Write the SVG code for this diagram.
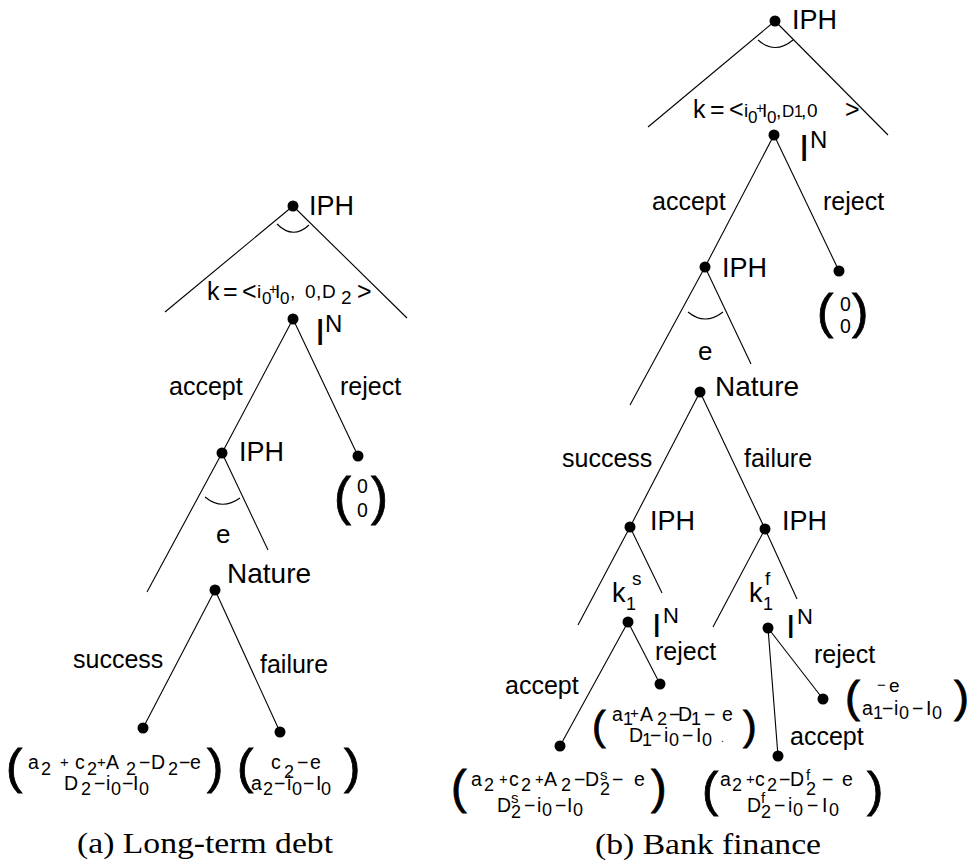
<svg xmlns="http://www.w3.org/2000/svg" width="973" height="867" viewBox="0 0 973 867">
<style>
.t{font-family:"Liberation Sans",Arial,sans-serif;fill:#000}
.lb{font-size:25px}
.nm{font-size:27px}
.m{font-size:19.5px}
.sb{font-size:18px}
.sm{font-size:15px}
.p{font-family:"Liberation Sans",Arial,sans-serif;fill:#000;stroke:#000;stroke-width:0.8}
.cap{font-family:"Liberation Serif","Times New Roman",serif;font-size:29px;fill:#000}
.ln{stroke:#000;stroke-width:1.1;fill:none}
.dot{fill:#000}
</style>
<rect width="973" height="867" fill="#fff"/>
<g id="edges">
<line class="ln" x1="293" y1="206" x2="165" y2="312"/>
<line class="ln" x1="293" y1="206" x2="407" y2="318"/>
<path class="ln" d="M277,224 Q293,240 309,225"/>
<line class="ln" x1="293" y1="319" x2="222" y2="453"/>
<line class="ln" x1="293" y1="319" x2="358" y2="456"/>
<line class="ln" x1="222" y1="453" x2="147" y2="592"/>
<line class="ln" x1="222" y1="453" x2="268" y2="550"/>
<path class="ln" d="M205,497 Q222,511 240,498"/>
<line class="ln" x1="215" y1="590" x2="143" y2="728"/>
<line class="ln" x1="215" y1="590" x2="280" y2="732"/>
<line class="ln" x1="775" y1="21" x2="648" y2="127"/>
<line class="ln" x1="775" y1="21" x2="888" y2="135"/>
<path class="ln" d="M758,40 Q775,55 793,40"/>
<line class="ln" x1="774" y1="135" x2="705" y2="267"/>
<line class="ln" x1="774" y1="135" x2="839" y2="271"/>
<line class="ln" x1="705" y1="267" x2="630" y2="405"/>
<line class="ln" x1="705" y1="267" x2="751" y2="364"/>
<path class="ln" d="M688,312 Q705,326 723,312"/>
<line class="ln" x1="700" y1="392" x2="630" y2="527"/>
<line class="ln" x1="700" y1="392" x2="765" y2="529"/>
<line class="ln" x1="630" y1="527" x2="578" y2="625"/>
<line class="ln" x1="630" y1="527" x2="662" y2="593"/>
<line class="ln" x1="765" y1="529" x2="713" y2="627"/>
<line class="ln" x1="765" y1="529" x2="797" y2="599"/>
<line class="ln" x1="628" y1="622" x2="560" y2="746"/>
<line class="ln" x1="628" y1="622" x2="660" y2="684"/>
<line class="ln" x1="768" y1="628" x2="778" y2="756"/>
<line class="ln" x1="768" y1="628" x2="823" y2="699"/>
</g>
<g id="edge-labels" class="t lb">
<text x="169" y="395">accept</text>
<text x="340" y="395">reject</text>
<text x="73" y="668">success</text>
<text x="260" y="673">failure</text>
<text x="652" y="210">accept</text>
<text x="823" y="210">reject</text>
<text x="562" y="467">success</text>
<text x="744" y="467">failure</text>
<text x="505" y="694">accept</text>
<text x="655" y="660">reject</text>
<text x="814" y="663">reject</text>
<text x="790" y="745">accept</text>
</g>
<g id="L-root">
<circle class="dot" cx="293" cy="206" r="5.5"/>
<text class="t nm" x="309" y="215">IPH</text>
<text class="t" y="300"><tspan x="207" font-size="25">k</tspan><tspan x="223" font-size="25">=</tspan><tspan x="242" font-size="25">&lt;</tspan><tspan x="257" y="298" font-size="19">i</tspan><tspan x="262" y="304" font-size="17">0</tspan><tspan x="269" y="294" font-size="14">+</tspan><tspan x="275" y="298" font-size="19">I</tspan><tspan x="280" y="304" font-size="17">0</tspan><tspan x="290" y="298" font-size="19">,</tspan><tspan x="305" y="298" font-size="19">0</tspan><tspan x="316" y="298" font-size="19">,</tspan><tspan x="322" y="298" font-size="19">D</tspan><tspan x="341" y="304" font-size="19">2</tspan><tspan x="357" y="300" font-size="25">&gt;</tspan></text>
</g>
<g id="L-IN">
<circle class="dot" cx="293" cy="319" r="5.5"/>
<text class="t" x="315" y="345" font-size="37">I</text>
<text class="t" x="325" y="332" font-size="24">N</text>
</g>
<g id="L-IPH2">
<circle class="dot" cx="222" cy="453" r="5.5"/>
<text class="t nm" x="239" y="461">IPH</text>
<text class="t" x="216" y="543" font-size="26">e</text>
</g>
<g id="L-reject">
<circle class="dot" cx="358" cy="456" r="5.5"/>
<text class="p" x="334" y="514" font-size="51">(</text>
<text class="t m" x="357" y="493">0</text>
<text class="t m" x="357" y="517">0</text>
<text class="p" x="371" y="514" font-size="51">)</text>
</g>
<g id="L-nature">
<circle class="dot" cx="215" cy="590" r="5.5"/>
<text class="t" x="227" y="583" font-size="28">Nature</text>
</g>
<g id="L-success">
<circle class="dot" cx="143" cy="728" r="5.5"/>
<text class="p" x="6" y="783" font-size="49">(</text>
<text class="t m" y="769"><tspan x="28">a</tspan><tspan x="41" y="775" class="sb">2</tspan><tspan x="60" y="767" class="sm">+</tspan><tspan x="75" y="769">c</tspan><tspan x="87" y="775" class="sb">2</tspan><tspan x="97" y="767" class="sm">+</tspan><tspan x="106" y="769">A</tspan><tspan x="126" y="775" class="sb">2</tspan><tspan x="139" y="769">−</tspan><tspan x="151" y="769">D</tspan><tspan x="168" y="775" class="sb">2</tspan><tspan x="179" y="769">−</tspan><tspan x="190" y="769">e</tspan></text>
<text class="t m" y="790"><tspan x="64">D</tspan><tspan x="81" y="795" class="sb">2</tspan><tspan x="94" y="790">−</tspan><tspan x="106" y="790">i</tspan><tspan x="111" y="795" class="sb">0</tspan><tspan x="122" y="790">−</tspan><tspan x="133" y="790">I</tspan><tspan x="139" y="795" class="sb">0</tspan></text>
<text class="p" x="207" y="783" font-size="49">)</text>
</g>
<g id="L-failure">
<circle class="dot" cx="280" cy="732" r="5.5"/>
<text class="p" x="237" y="783" font-size="49">(</text>
<text class="t m" y="769"><tspan x="271">c</tspan><tspan x="284" y="778" class="sb">2</tspan><tspan x="297" y="769">−</tspan><tspan x="310" y="769">e</tspan></text>
<text class="t m" y="790"><tspan x="251">a</tspan><tspan x="263" y="795" class="sb">2</tspan><tspan x="274" y="790">−</tspan><tspan x="287" y="790">i</tspan><tspan x="292" y="795" class="sb">0</tspan><tspan x="303" y="790">−</tspan><tspan x="316" y="790">I</tspan><tspan x="321" y="795" class="sb">0</tspan></text>
<text class="p" x="344" y="783" font-size="49">)</text>
</g>
<text class="cap" x="77" y="853" textLength="256" lengthAdjust="spacingAndGlyphs">(a) Long-term debt</text>
<g id="R-root">
<circle class="dot" cx="775" cy="21" r="5.5"/>
<text class="t nm" x="792" y="29">IPH</text>
<text class="t" y="118"><tspan x="693" font-size="25">k</tspan><tspan x="710" font-size="25">=</tspan><tspan x="729" font-size="25">&lt;</tspan><tspan x="744" y="117" font-size="19">i</tspan><tspan x="748" y="123" font-size="17">0</tspan><tspan x="756" y="113" font-size="14">+</tspan><tspan x="762" y="117" font-size="19">I</tspan><tspan x="767" y="123" font-size="17">0</tspan><tspan x="776" y="117" font-size="19">,</tspan><tspan x="782" y="117" font-size="17">D</tspan><tspan x="794" y="117" font-size="16">1</tspan><tspan x="801" y="117" font-size="19">,</tspan><tspan x="807" y="117" font-size="19">0</tspan><tspan x="845" y="118" font-size="25">&gt;</tspan></text>
</g>
<g id="R-IN">
<circle class="dot" cx="774" cy="135" r="5.5"/>
<text class="t" x="799" y="161" font-size="37">I</text>
<text class="t" x="810" y="148" font-size="24">N</text>
</g>
<g id="R-IPH2">
<circle class="dot" cx="705" cy="267" r="5.5"/>
<text class="t nm" x="722" y="277">IPH</text>
<text class="t" x="698" y="360" font-size="26">e</text>
</g>
<g id="R-reject">
<circle class="dot" cx="839" cy="271" r="5.5"/>
<text class="p" x="817" y="328" font-size="49">(</text>
<text class="t m" x="840" y="311">0</text>
<text class="t m" x="840" y="333">0</text>
<text class="p" x="852" y="328" font-size="49">)</text>
</g>
<g id="R-nature">
<circle class="dot" cx="700" cy="392" r="5.5"/>
<text class="t" x="715" y="396" font-size="28">Nature</text>
</g>
<g id="R-IPH-s">
<circle class="dot" cx="630" cy="527" r="5.5"/>
<text class="t nm" x="650" y="530">IPH</text>
<text class="t" x="612" y="602" font-size="27">k</text>
<text class="t" x="632" y="585" font-size="19">s</text>
<text class="t" x="626" y="610" font-size="18">1</text>
</g>
<g id="R-IPH-f">
<circle class="dot" cx="765" cy="529" r="5.5"/>
<text class="t" x="782" y="530" font-size="27">IPH</text>
<text class="t" x="749" y="602" font-size="27">k</text>
<text class="t" x="765" y="585" font-size="19">f</text>
<text class="t" x="763" y="610" font-size="18">1</text>
</g>
<g id="R-IN-s">
<circle class="dot" cx="628" cy="622" r="5.5"/>
<text class="t" x="652" y="637" font-size="34">I</text>
<text class="t" x="663" y="623" font-size="22">N</text>
</g>
<g id="R-IN-f">
<circle class="dot" cx="768" cy="628" r="5.5"/>
<text class="t" x="786" y="638" font-size="34">I</text>
<text class="t" x="797" y="624" font-size="22">N</text>
</g>
<g id="R-s-reject">
<circle class="dot" cx="660" cy="684" r="5.5"/>
<text class="p" x="592" y="740" font-size="41">(</text>
<text class="t m" y="721"><tspan x="612">a</tspan><tspan x="623" y="725" class="sb">1</tspan><tspan x="630" y="718" class="sm">+</tspan><tspan x="640" y="721">A</tspan><tspan x="657" y="725" class="sb">2</tspan><tspan x="669" y="721">−</tspan><tspan x="678" y="721">D</tspan><tspan x="691" y="725" class="sb">1</tspan><tspan x="704" y="721">−</tspan><tspan x="722" y="721">e</tspan></text>
<text class="t m" y="742"><tspan x="629">D</tspan><tspan x="642" y="746" class="sb">1</tspan><tspan x="650" y="742">−</tspan><tspan x="664" y="742">i</tspan><tspan x="669" y="746" class="sb">0</tspan><tspan x="682" y="742">−</tspan><tspan x="696" y="742">I</tspan><tspan x="702" y="746" class="sb">0</tspan><tspan x="721" y="742" font-size="10">.</tspan></text>
<text class="p" x="743" y="740" font-size="41">)</text>
</g>
<g id="R-s-accept">
<circle class="dot" cx="560" cy="746" r="5.5"/>
<text class="p" x="451" y="803" font-size="47">(</text>
<text class="t m" y="786"><tspan x="471">a</tspan><tspan x="484" y="791" class="sb">2</tspan><tspan x="499" y="784" class="sm">+</tspan><tspan x="509" y="786">c</tspan><tspan x="521" y="791" class="sb">2</tspan><tspan x="535" y="784" class="sm">+</tspan><tspan x="544" y="786">A</tspan><tspan x="561" y="791" class="sb">2</tspan><tspan x="574" y="786">−</tspan><tspan x="585" y="786">D</tspan><tspan x="600" y="780" font-size="15">s</tspan><tspan x="600" y="795" class="sb">2</tspan><tspan x="612" y="786">−</tspan><tspan x="634" y="786">e</tspan></text>
<text class="t m" y="812"><tspan x="497">D</tspan><tspan x="511" y="803" font-size="15">s</tspan><tspan x="511" y="818" class="sb">2</tspan><tspan x="524" y="812">−</tspan><tspan x="537" y="812">i</tspan><tspan x="542" y="816" class="sb">0</tspan><tspan x="555" y="812">−</tspan><tspan x="567" y="812">I</tspan><tspan x="573" y="816" class="sb">0</tspan></text>
<text class="p" x="651" y="803" font-size="47">)</text>
</g>
<g id="R-f-reject">
<circle class="dot" cx="823" cy="699" r="5.5"/>
<text class="p" x="845" y="712" font-size="45">(</text>
<text class="t" y="692"><tspan x="877" y="690" font-size="15">−</tspan><tspan x="889" y="692" font-size="19">e</tspan></text>
<text class="t m" y="715"><tspan x="862">a</tspan><tspan x="873" y="719" class="sb">1</tspan><tspan x="882" y="715">−</tspan><tspan x="894" y="715">i</tspan><tspan x="899" y="719" class="sb">0</tspan><tspan x="912" y="715">−</tspan><tspan x="926" y="715">I</tspan><tspan x="932" y="719" class="sb">0</tspan></text>
<text class="p" x="954" y="712" font-size="45">)</text>
</g>
<g id="R-f-accept">
<circle class="dot" cx="778" cy="756" r="5.5"/>
<text class="p" x="702" y="806" font-size="49">(</text>
<text class="t m" y="786"><tspan x="720">a</tspan><tspan x="732" y="791" class="sb">2</tspan><tspan x="746" y="784" class="sm">+</tspan><tspan x="755" y="786">c</tspan><tspan x="767" y="791" class="sb">2</tspan><tspan x="779" y="786">−</tspan><tspan x="790" y="786">D</tspan><tspan x="806" y="780" font-size="15">f</tspan><tspan x="806" y="795" class="sb">2</tspan><tspan x="822" y="786">−</tspan><tspan x="842" y="786">e</tspan></text>
<text class="t m" y="812"><tspan x="747">D</tspan><tspan x="761" y="803" font-size="15">f</tspan><tspan x="761" y="818" class="sb">2</tspan><tspan x="774" y="812">−</tspan><tspan x="788" y="812">i</tspan><tspan x="793" y="816" class="sb">0</tspan><tspan x="807" y="812">−</tspan><tspan x="822" y="812">I</tspan><tspan x="829" y="816" class="sb">0</tspan></text>
<text class="p" x="867" y="806" font-size="49">)</text>
</g>
<text class="cap" x="595" y="854" textLength="226" lengthAdjust="spacingAndGlyphs">(b) Bank finance</text>
</svg>
